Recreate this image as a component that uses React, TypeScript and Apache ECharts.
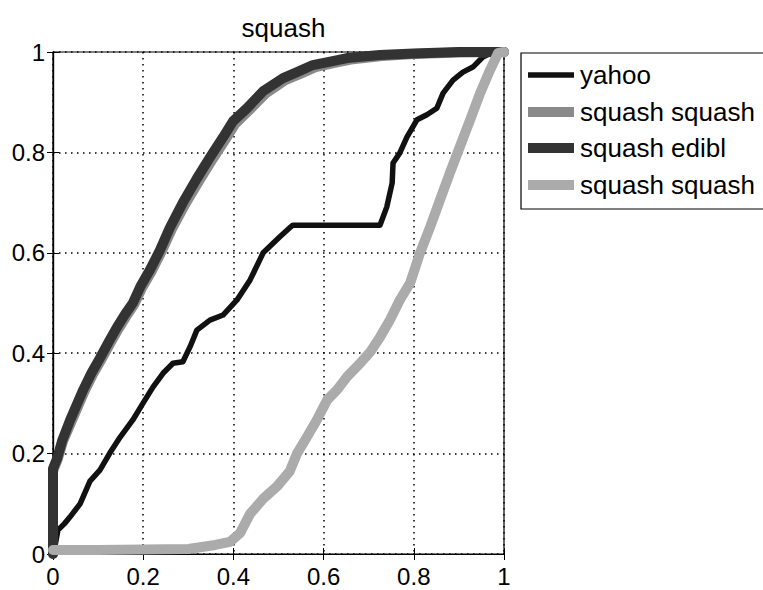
import React, { useEffect, useRef } from "react";
import * as echarts from "echarts";

const titleText = "squash";
const legendNames = ["yahoo", "squash squash", "squash edibl", "squash squash"];
const seriesColors = ["#111111", "#8a8a8a", "#333333", "#ababab"];
const seriesWidths = [5.5, 10, 10, 10];

const yahoo: number[][] = [
  [0, 0], [0.004, 0.014], [0.011, 0.048], [0.025, 0.06], [0.038, 0.074], [0.06, 0.1],
  [0.082, 0.145], [0.104, 0.167], [0.126, 0.201], [0.149, 0.233], [0.177, 0.267],
  [0.2, 0.301], [0.222, 0.333], [0.244, 0.36], [0.266, 0.38], [0.288, 0.383],
  [0.304, 0.413], [0.319, 0.446], [0.348, 0.466], [0.377, 0.476], [0.408, 0.506],
  [0.437, 0.546], [0.466, 0.6], [0.503, 0.632], [0.525, 0.65], [0.532, 0.655],
  [0.725, 0.655], [0.74, 0.691], [0.752, 0.739], [0.754, 0.779], [0.769, 0.799],
  [0.785, 0.831], [0.807, 0.865], [0.829, 0.875], [0.851, 0.888], [0.865, 0.918],
  [0.887, 0.944], [0.909, 0.96], [0.931, 0.97], [0.953, 0.99], [0.976, 1], [1, 1],
];

const squashSquashA: number[][] = [
  [0, 0], [0, 0.165], [0.011, 0.19], [0.022, 0.224], [0.041, 0.264], [0.07, 0.324],
  [0.088, 0.357], [0.107, 0.387], [0.128, 0.421], [0.145, 0.448], [0.163, 0.474],
  [0.18, 0.497], [0.198, 0.531], [0.218, 0.562], [0.24, 0.601], [0.263, 0.646],
  [0.292, 0.695], [0.324, 0.743], [0.353, 0.785], [0.382, 0.825], [0.404, 0.857],
  [0.435, 0.884], [0.471, 0.917], [0.515, 0.944], [0.547, 0.956], [0.582, 0.97],
  [0.627, 0.979], [0.66, 0.985], [0.73, 0.992], [0.8, 0.996], [0.9, 0.999], [1, 1],
];

const squashEdibl: number[][] = [
  [0, 0], [0, 0.17], [0.009, 0.19], [0.02, 0.225], [0.038, 0.267], [0.067, 0.327],
  [0.085, 0.36], [0.104, 0.39], [0.125, 0.425], [0.142, 0.452], [0.16, 0.478],
  [0.177, 0.5], [0.195, 0.535], [0.215, 0.566], [0.237, 0.605], [0.259, 0.65],
  [0.288, 0.7], [0.319, 0.748], [0.348, 0.79], [0.377, 0.83], [0.399, 0.862],
  [0.43, 0.888], [0.466, 0.922], [0.51, 0.948], [0.541, 0.96], [0.576, 0.974],
  [0.62, 0.982], [0.652, 0.988], [0.725, 0.994], [0.8, 0.997], [0.9, 1], [1, 1],
];

const squashSquashB: number[][] = [
  [0, 0.008], [0.1, 0.008], [0.2, 0.009], [0.3, 0.01], [0.33, 0.014], [0.36, 0.018],
  [0.392, 0.024], [0.415, 0.042], [0.437, 0.08], [0.466, 0.11], [0.497, 0.135],
  [0.525, 0.165], [0.541, 0.2], [0.563, 0.233], [0.585, 0.267], [0.608, 0.307],
  [0.63, 0.327], [0.652, 0.353], [0.681, 0.38], [0.703, 0.402], [0.725, 0.432],
  [0.747, 0.466], [0.769, 0.506], [0.792, 0.54], [0.814, 0.6], [0.836, 0.651],
  [0.858, 0.705], [0.88, 0.759], [0.902, 0.811], [0.925, 0.865], [0.947, 0.918],
  [0.969, 0.964], [0.987, 0.998], [1, 1],
];

const seriesData = [yahoo, squashSquashA, squashEdibl, squashSquashB];

const FONT = "'Liberation Sans', Arial, Helvetica, sans-serif";

export default function App() {
  const ref = useRef<HTMLDivElement>(null);
  useEffect(() => {
    if (!ref.current) return;
    const chart = echarts.init(ref.current, undefined, { renderer: "svg" });
    const gridLeft = 53, gridTop = 52, gridW = 451, gridH = 502;
    const axisCommon = {
      type: "value" as const,
      min: 0,
      max: 1,
      interval: 0.2,
      axisLine: { show: true, lineStyle: { color: "#000", width: 1.2 } },
      axisTick: { show: true, inside: true, length: 6, lineStyle: { color: "#000" } },
    };
    const legendX = 521, legendY = 53;
    const rowYs = [75, 112, 148, 185];
    const legendGraphics: any[] = [
      {
        type: "rect",
        shape: { x: legendX, y: legendY, width: 245, height: 156 },
        style: { fill: "#fff", stroke: "#000", lineWidth: 1.2 },
      },
    ];
    legendNames.forEach((name, i) => {
      legendGraphics.push({
        type: "line",
        shape: { x1: 528, y1: rowYs[i], x2: 574, y2: rowYs[i] },
        style: { stroke: seriesColors[i], lineWidth: i === 0 ? 5.5 : 10 },
      });
      legendGraphics.push({
        type: "text",
        x: 580,
        y: rowYs[i],
        style: {
          text: name,
          font: `26px ${FONT}`,
          fill: "#000",
          textVerticalAlign: "middle",
          verticalAlign: "middle",
        },
      });
    });
    chart.setOption({
      animation: false,
      backgroundColor: "#fff",
      title: {
        text: titleText,
        left: gridLeft + gridW / 2,
        top: 10,
        textAlign: "center",
        textStyle: { fontFamily: FONT, fontSize: 26, fontWeight: "normal", color: "#000" },
      },
      grid: {
        left: gridLeft,
        top: gridTop,
        width: gridW,
        height: gridH,
        show: true,
        borderColor: "#000",
        borderWidth: 1.2,
        backgroundColor: "#fff",
      },
      xAxis: [
        {
          ...axisCommon,
          position: "bottom",
          axisLabel: { fontFamily: FONT, fontSize: 24, color: "#000", margin: 10 },
          splitLine: { show: true, lineStyle: { color: "#000", type: [1.5, 4.5], width: 1.5 } },
        },
        {
          ...axisCommon,
          position: "top",
          axisLabel: { show: false },
          splitLine: { show: false },
        },
      ],
      yAxis: [
        {
          ...axisCommon,
          position: "left",
          axisLabel: { fontFamily: FONT, fontSize: 24, color: "#000", margin: 8 },
          splitLine: { show: true, lineStyle: { color: "#000", type: [1.5, 4.5], width: 1.5 } },
        },
        {
          ...axisCommon,
          position: "right",
          axisLabel: { show: false },
          splitLine: { show: false },
        },
      ],
      series: seriesData.map((d, i) => ({
        name: legendNames[i],
        type: "line",
        data: d,
        showSymbol: false,
        symbol: "none",
        clip: true,
        z: 2 + i,
        lineStyle: { color: seriesColors[i], width: seriesWidths[i], join: "round", cap: "round" },
      })),
      graphic: legendGraphics,
    });
    return () => chart.dispose();
  }, []);
  return (
    <div
      ref={ref}
      style={{ position: "fixed", left: 0, top: 0, width: 763, height: 590 }}
    />
  );
}
